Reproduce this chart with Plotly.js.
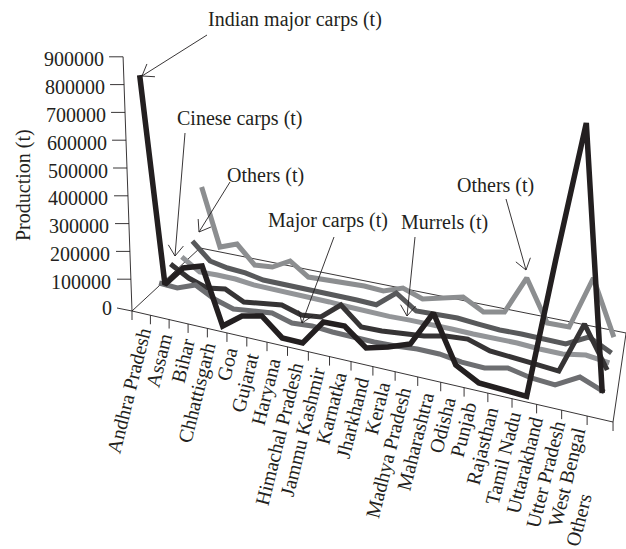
<!DOCTYPE html>
<html><head><meta charset="utf-8">
<script src="https://cdn.plot.ly/plotly-3.0.1.min.js"></script>
<style>html,body{margin:0;padding:0;background:#fff}</style>
</head><body><div id="chart" style="width:626px;height:549px"></div>
<script>
const states = ["Andhra Pradesh","Assam","Bihar","Chhattisgarh","Goa","Gujarat","Haryana","Himachal Pradesh","Jammu Kashmir","Karnatka","Jharkhand","Kerala","Madhya Pradesh","Maharashtra","Odisha","Punjab","Rajasthan","Tamil Nadu","Uttarakhand","Utter Pradesh","West Bengal","Others"];
const indianMajorCarps = [851700,107900,180700,201600,4600,55200,70300,10000,8900,95800,97600,40000,59400,85100,201800,49300,8600,3500,500,442300,879300,63100];
const majorCarps = [58100,54000,79500,43100,22000,30000,37900,17900,23100,17700,16100,14600,17300,23200,22600,12200,9200,25900,10300,4800,47200,16900];
const cineseCarps = [89700,50700,27600,38500,5200,16500,23900,2900,11100,68700,6300,8000,13100,22000,37800,43300,19200,12000,8300,2000,171400,38700];
const murrels = [78100,34100,36600,35600,27500,26900,26700,26500,23000,19600,16600,16000,18000,19000,17800,15900,17900,16700,12500,11800,24600,14500];
const othersFront = [102600,37600,24100,18900,5800,5000,8000,7500,7100,3300,500,58400,7600,8300,12900,6700,1400,3100,1400,500,39900,1700];
const othersBack = [283000,54800,80200,10700,16500,54100,5800,8400,11400,14400,10100,35800,9600,27900,46400,6500,21900,158500,13100,14400,201000,10700];
const yTicks = [0,100000,200000,300000,400000,500000,600000,700000,800000,900000];

// Oblique 3-D projection of (category position, depth, value) to the page
const ink = "#231f20", serif = "Liberation Serif, Times New Roman, serif";
const N = states.length, K = 0.000278;
function project(u, d, v, lift) {
  const f = u / N, w = 1 - 0.164 * f + 0.134 * d;
  const bx = (380.5 * f + 94.8 * d + 132) / w;
  const by = (41.8 * f - 29.8 * d + 311) / w + (lift || 0);
  const H = v * K / w;
  return [bx + (bx - 353) * H / 6200, by - H];
}
function ribbon(name, vals, s, color, width) {
  const d = (s + 0.5) / 6;
  const pts = vals.map((v, i) => project(i + 0.5, d, v, 3));
  return {type:"scatter", mode:"lines", name, x:pts.map(p=>p[0]), y:pts.map(p=>p[1]),
          line:{color, width}, hoverinfo:"name+y", cliponaxis:false};
}
function segs(list){ const x=[],y=[]; list.forEach(([a,b])=>{x.push(a[0],b[0],null);y.push(a[1],b[1],null);}); return {x,y}; }

// frame: floor outline, value axis, tick marks
const floor = [[project(0,0,0),project(N,0,0)],[project(N,0,0),project(N,1,0)],[project(N,1,0),project(0,1,0)],[project(0,1,0),project(0,0,0)]];
const tickMarks = [];
for (let i=0;i<=N;i++){ const p=project(i,0,0); tickMarks.push([p,[p[0],p[1]+9]]); }
const axisBase = 307;
const yPos = v => { const H=v*K; return [132+(132-353)*H/6200, axisBase-H]; };
const axisSegs = [[[132,311],yPos(900000)]];
yTicks.forEach(v=>{ const p=yPos(v); axisSegs.push(v===0?[[117,308],[132,311]]:[[p[0]-14,p[1]],p]); });
const frame = segs(floor.concat(tickMarks,axisSegs));
const frameTrace = {type:"scatter",mode:"lines",x:frame.x,y:frame.y,line:{color:ink,width:0.9},hoverinfo:"skip",cliponaxis:false};

const traces = [frameTrace,
  ribbon("Others (t)", othersBack, 5, "#8c8e90", 5),
  ribbon("Others (t)", othersFront, 4, "#58595b", 5),
  ribbon("Murrels (t)", murrels, 3, "#939598", 5),
  ribbon("Cinese carps (t)", cineseCarps, 2, "#363435", 5),
  ribbon("Major carps (t)", majorCarps, 1, "#6d6e71", 5),
  ribbon("Indian major carps (t)", indianMajorCarps, 0, "#231f20", 5.5)
];

const ann = [];
const txt = (text,x,y,o)=>ann.push(Object.assign({text,x,y,xref:"x",yref:"y",showarrow:false,borderpad:0,
   font:{family:serif,size:20,color:ink}},o));
yTicks.forEach(v=>txt(String(v),113-8*v/900000,v===0?308:yPos(v)[1]+2.5,{xanchor:"right",yanchor:"middle",font:{family:serif,size:20,color:ink}}));
txt("Production (t)",23,185,{textangle:-90,xanchor:"center",yanchor:"middle"});
states.forEach((s,i)=>{
  const last=i===N-1;
  txt(s,last?597:156+21.8*i,last?490:325+4.9*i,{textangle:-76,xanchor:"right",yanchor:"top",font:{family:serif,size:20,color:ink}});
});
const calls=[["Indian major carps (t)",295,19,[207,35],[142,76]],["Cinese carps (t)",240,118,[185,133],[175,256]],
 ["Others (t)",265,175,[230,182],[199,232]],["Major carps (t)",328,220,[334,237],[302,323]],
 ["Murrels (t)",444,222,[415,237],[407,316]],["Others (t)",495,185,[506,199],[526,270]]];
const shapes=[];
calls.forEach(([t,x,y,a,b])=>{
  txt(t,x,y,{xanchor:"center",yanchor:"middle"});
  const ang=Math.atan2(b[1]-a[1],b[0]-a[0]), L=13, sp=0.62;
  const h1=[b[0]-L*Math.cos(ang-sp),b[1]-L*Math.sin(ang-sp)], h2=[b[0]-L*Math.cos(ang+sp),b[1]-L*Math.sin(ang+sp)];
  shapes.push({type:"path",xref:"x",yref:"y",layer:"above",line:{color:ink,width:0.9},
    path:`M${a[0]},${a[1]}L${b[0]},${b[1]}M${h1[0]},${h1[1]}L${b[0]},${b[1]}L${h2[0]},${h2[1]}`});
});

Plotly.newPlot("chart",traces,{
  width:626,height:549,margin:{l:0,r:0,t:0,b:0},showlegend:false,
  paper_bgcolor:"#fff",plot_bgcolor:"#fff",
  xaxis:{range:[0,626],visible:false,fixedrange:true},
  yaxis:{range:[549,0],visible:false,fixedrange:true},
  annotations:ann,shapes
},{displayModeBar:false,staticPlot:true}).then(()=>{
  document.querySelectorAll(".js-line").forEach(e=>e.style.strokeLinejoin="miter");
});
</script></body></html>
